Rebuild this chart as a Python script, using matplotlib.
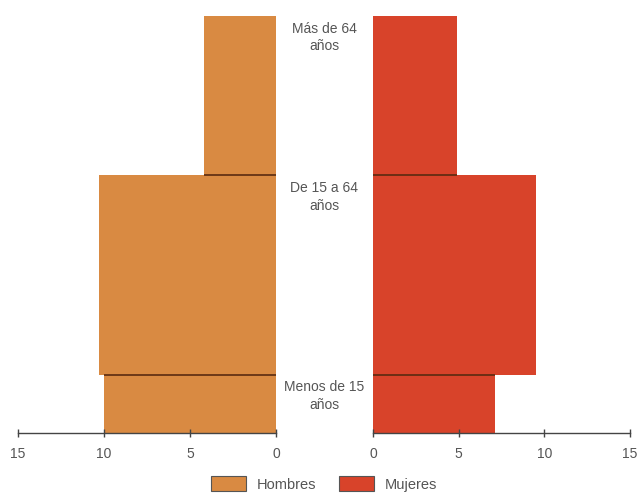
import matplotlib
matplotlib.use("Agg")
import matplotlib.pyplot as plt
from matplotlib.patches import Patch
from matplotlib import font_manager

groups = ["Menos de 15\naños", "De 15 a 64\naños", "Más de 64\naños"]
age_edges = [0, 14.5, 64, 103.5]
hombres = [10.0, 10.3, 4.2]
mujeres = [7.1, 9.5, 4.9]
ticks = [0, 5, 10, 15]

c_h = "#D98A42"
c_m = "#D8432A"
edge_dark = "#5a2a10"
txt = "#555555"

names = {f.name for f in font_manager.fontManager.ttflist}
fam = ["Liberation Sans Narrow", "Liberation Sans", "DejaVu Sans"]
fam = [f for f in fam if f in names] or ["DejaVu Sans"]
plt.rcParams["font.family"] = fam

W, H = 642, 497
fig = plt.figure(figsize=(W / 100, H / 100), dpi=100)

ax_bottom = 1 - 433 / H
ax_h = (433 - 6) / H
axL = fig.add_axes([18 / W, ax_bottom, (276 - 18) / W, ax_h])
axR = fig.add_axes([373 / W, ax_bottom, (630 - 373) / W, ax_h])

bottoms = age_edges[:-1]
heights = [age_edges[i + 1] - age_edges[i] for i in range(len(groups))]

for ax, vals, col in ((axL, hombres, c_h), (axR, mujeres, c_m)):
    ax.barh(bottoms, vals, height=heights, align="edge", color=col, edgecolor="none")
    for i in range(1, len(vals)):
        w = min(vals[i], vals[i - 1])
        ax.hlines(age_edges[i], 0, w, color=edge_dark, lw=1.2)
    ax.set_xlim(0, 15)
    ax.set_ylim(0, 106)
    ax.set_xticks(ticks)
    ax.set_xticklabels([str(t) for t in ticks])
    ax.set_yticks([])
    for s in ("top", "left", "right"):
        ax.spines[s].set_visible(False)
    ax.spines["bottom"].set_color("#444444")
    ax.spines["bottom"].set_linewidth(1.0)
    ax.tick_params(axis="x", direction="inout", length=6, width=1.0, color="#444444",
                   labelsize=10, labelcolor=txt, pad=7)
    ax.patch.set_alpha(0)

axL.invert_xaxis()

for i, g in enumerate(groups):
    axL.annotate(g, xy=(324.5 / W, age_edges[i + 1]), xycoords=(fig.transFigure, axL.transData),
                 xytext=(0, -4), textcoords="offset points", ha="center", va="top",
                 fontsize=10, color=txt, linespacing=1.35)

handles = [Patch(facecolor=c_h, edgecolor="#555555", lw=0.8, label="Hombres"),
           Patch(facecolor=c_m, edgecolor="#555555", lw=0.8, label="Mujeres")]
leg = fig.legend(handles=handles, loc="center", bbox_to_anchor=(324 / W, 1 - 484 / H), ncol=2,
                 frameon=False, fontsize=10.5, handlelength=2.4, handleheight=1.2,
                 columnspacing=1.6, handletextpad=0.7)
for t in leg.get_texts():
    t.set_color(txt)

fig.savefig("out.png", dpi=100)
